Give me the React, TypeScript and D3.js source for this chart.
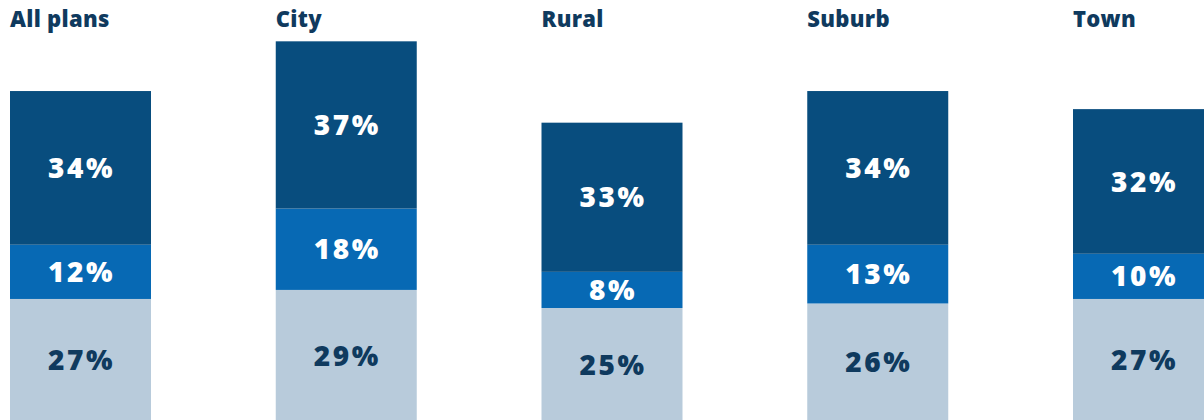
import React from "react";
import * as d3 from "d3";

const categories = ["All plans", "City", "Rural", "Suburb", "Town"];
const bottomValues = [27, 29, 25, 26, 27];
const middleValues = [12, 18, 8, 13, 10];
const topValues = [34, 37, 33, 34, 32];

const W = 1204;
const H = 420;
const colors = ["#b8cbdb", "#0769b4", "#084d7e"];
const textColors = ["#0f3a5e", "#ffffff", "#ffffff"];

export default function App() {
  const x = d3.scaleLinear().domain([0, 4]).range([10, 1073]);
  const y = d3.scaleLinear().domain([0, 100]).range([H + 1, H + 1 - 452]);
  const bw = 141;
  const series = [bottomValues, middleValues, topValues];
  return (
    <svg width={W} height={H} style={{ position: "absolute", left: 0, top: 0 }}>
      {categories.map((c, i) => {
        const x0 = x(i);
        let cum = 0;
        return (
          <g key={c}>
            <text x={x0} y={27} fontFamily="'Open Sans', sans-serif" fontWeight={800} fontSize={22} letterSpacing={0.3} fill="#0f3a5e">
              {c}
            </text>
            {series.map((s, k) => {
              const v = s[i];
              const y1 = y(cum);
              const y2 = y(cum + v);
              cum += v;
              return (
                <g key={k}>
                  <rect x={x0} y={y2} width={bw} height={y1 - y2} fill={colors[k]} />
                  <text
                    x={x0 + bw / 2 + 1}
                    y={(y1 + y2) / 2}
                    dy="0.36em"
                    textAnchor="middle"
                    fontFamily="'Open Sans', sans-serif"
                    fontWeight={800}
                    fontSize={28}
                    letterSpacing={2.5}
                    fill={textColors[k]}
                  >
                    {v}%
                  </text>
                </g>
              );
            })}
          </g>
        );
      })}
    </svg>
  );
}
